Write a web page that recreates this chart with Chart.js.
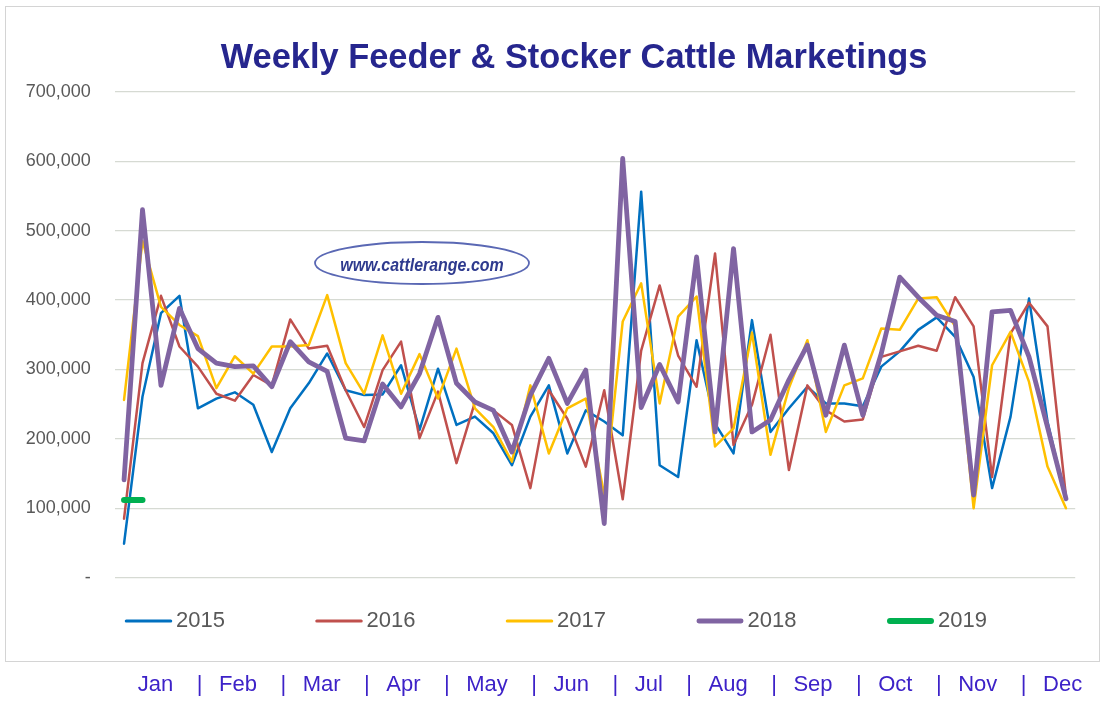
<!DOCTYPE html>
<html><head><meta charset="utf-8">
<script src="https://cdn.jsdelivr.net/npm/chart.js@4/dist/chart.umd.min.js"></script>
<style>html,body{margin:0;padding:0;background:#fff;}#wrap{position:relative;width:1105px;height:701px;}</style>
</head><body><div id="wrap"><canvas id="c" width="1105" height="701"></canvas></div>
<script>
// ---- data ----
const weeks = ['W1','W2','W3','W4','W5','W6','W7','W8','W9','W10','W11','W12','W13','W14','W15','W16','W17','W18','W19','W20','W21','W22','W23','W24','W25','W26','W27','W28','W29','W30','W31','W32','W33','W34','W35','W36','W37','W38','W39','W40','W41','W42','W43','W44','W45','W46','W47','W48','W49','W50','W51','W52'];
const seriesNames = ['2015','2016','2017','2018','2019'];
const y2015 = [49000,261000,381000,406000,244000,258000,267000,249000,181000,244000,280000,323000,270000,263000,264000,306000,213000,301000,220000,232000,208000,162000,232000,277000,179000,241000,225000,205000,556000,162000,145000,342000,222000,179000,371000,210000,244000,275000,251000,251000,247000,304000,326000,357000,375000,347000,289000,129000,232000,402000,225000,112000];
const y2016 = [85000,309000,406000,333000,304000,265000,255000,292000,277000,372000,330000,334000,270000,217000,299000,340000,201000,268000,165000,253000,241000,220000,129000,270000,229000,160000,270000,113000,327000,421000,320000,275000,467000,191000,249000,350000,155000,277000,241000,225000,228000,318000,326000,334000,327000,404000,362000,145000,352000,396000,362000,117000];
const y2017 = [256000,485000,390000,364000,348000,273000,319000,294000,333000,333000,335000,407000,309000,265000,349000,265000,322000,258000,330000,244000,217000,167000,277000,179000,244000,258000,119000,369000,424000,251000,376000,405000,189000,215000,353000,177000,273000,342000,210000,277000,287000,359000,357000,402000,404000,362000,100000,306000,354000,282000,160000,100000];
const y2018 = [141000,530000,277000,388000,330000,309000,304000,305000,275000,340000,311000,297000,201000,197000,279000,246000,294000,375000,280000,253000,241000,181000,263000,316000,251000,299000,78000,604000,245000,307000,253000,462000,210000,474000,210000,227000,285000,335000,234000,335000,234000,323000,433000,404000,378000,369000,119000,383000,385000,318000,217000,114000];
const y2019 = [112000,112000];
const monthLabels = ['Jan','Feb','Mar','Apr','May','Jun','Jul','Aug','Sep','Oct','Nov','Dec'];
const yTicks = [0,100000,200000,300000,400000,500000,600000,700000];
const titleText = 'Weekly Feeder & Stocker Cattle Marketings';
const watermarkText = 'www.cattlerange.com';

// ---- styles ----
const colors = ['#0070c0','#c0504d','#ffc000','#8064a2','#00b050'];
const widths = [2.5,2.5,2.5,4.8,6];
const FONT = '"Liberation Sans", Arial, sans-serif';

const allSeries = [y2015,y2016,y2017,y2018,y2019];
const datasets = allSeries.map((d,i)=>({
  label: seriesNames[i],
  data: d,
  borderColor: colors[i],
  backgroundColor: colors[i],
  borderWidth: widths[i],
  pointRadius: 0,
  pointHoverRadius: 0,
  tension: 0,
  fill: false,
  spanGaps: false,
  borderJoinStyle: 'round',
  borderCapStyle: 'round',
  order: allSeries.length - 1 - i
}));

const decor = {
  id: 'decor',
  beforeDraw(chart){
    const ctx = chart.ctx;
    ctx.save();
    ctx.fillStyle = '#ffffff';
    ctx.fillRect(0,0,chart.width,chart.height);
    ctx.restore();
  },
  beforeDatasetsDraw(chart){
    const ctx = chart.ctx;
    ctx.save();
    // watermark
    ctx.beginPath();
    ctx.ellipse(422, 263, 107, 21, 0, 0, Math.PI*2);
    ctx.strokeStyle = '#5a68b4';
    ctx.lineWidth = 1.8;
    ctx.stroke();
    ctx.translate(422, 266);
    ctx.scale(0.84, 1);
    ctx.font = 'italic bold 19px ' + FONT;
    ctx.fillStyle = '#2e3a8e';
    ctx.textAlign = 'center';
    ctx.textBaseline = 'middle';
    ctx.fillText(watermarkText, 0, 0);
    ctx.restore();
  },
  afterDraw(chart){
    const ctx = chart.ctx;
    ctx.save();
    // border
    ctx.strokeStyle = '#d4d4d4';
    ctx.lineWidth = 1;
    ctx.strokeRect(5.5, 6.5, 1094, 655);
    // title
    ctx.font = 'bold 34.4px ' + FONT;
    ctx.fillStyle = '#26268e';
    ctx.textAlign = 'center';
    ctx.textBaseline = 'alphabetic';
    ctx.fillText(titleText, 574, 68);
    // legend
    ctx.font = '22px ' + FONT;
    ctx.textAlign = 'left';
    ctx.textBaseline = 'middle';
    seriesNames.forEach((name,i)=>{
      const x0 = 125 + i*190.5;
      const w = widths[i];
      ctx.beginPath();
      ctx.lineCap = 'round';
      ctx.strokeStyle = colors[i];
      ctx.lineWidth = Math.max(w,3);
      ctx.moveTo(x0 + w/2, 621);
      ctx.lineTo(x0 + 47 - w/2, 621);
      ctx.stroke();
      ctx.fillStyle = '#595959';
      ctx.fillText(name, x0 + 51, 621);
    });
    // month labels
    ctx.font = '22px ' + FONT;
    ctx.fillStyle = '#3d22c8';
    ctx.textBaseline = 'middle';
    const gapA = 23.5, gapB = 16.5;
    const pipeW = ctx.measureText('|').width;
    let total = 0;
    monthLabels.forEach((m,i)=>{ total += ctx.measureText(m).width; if(i<monthLabels.length-1) total += gapA + pipeW + gapB; });
    let x = 610 - total/2;
    monthLabels.forEach((m,i)=>{
      ctx.fillText(m, x, 685);
      x += ctx.measureText(m).width;
      if(i<monthLabels.length-1){
        x += gapA;
        ctx.fillText('|', x, 685);
        x += pipeW + gapB;
      }
    });
    ctx.restore();
  }
};

new Chart(document.getElementById('c'), {
  type: 'line',
  data: { labels: weeks, datasets },
  options: {
    responsive: false,
    animation: false,
    devicePixelRatio: 1,
    layout: { padding: { top: 91.7, left: 0, right: 29.8, bottom: 123.3 } },
    plugins: { legend: { display: false }, title: { display: false }, tooltip: { enabled: false } },
    scales: {
      x: { display: false, offset: true, grid: { display: false } },
      y: {
        min: 0, max: 700000,
        afterFit(s){ s.width = 114.8; },
        afterBuildTicks(s){ s.ticks = yTicks.map(v=>({value:v})); },
        border: { display: false },
        grid: { color: '#d6dad3', lineWidth: 1.2, drawTicks: false },
        ticks: {
          padding: 24,
          color: '#595959',
          font: { family: FONT, size: 18 },
          callback: v => v === 0 ? '-' : v.toLocaleString('en-US')
        }
      }
    }
  },
  plugins: [decor]
});
</script></body></html>
